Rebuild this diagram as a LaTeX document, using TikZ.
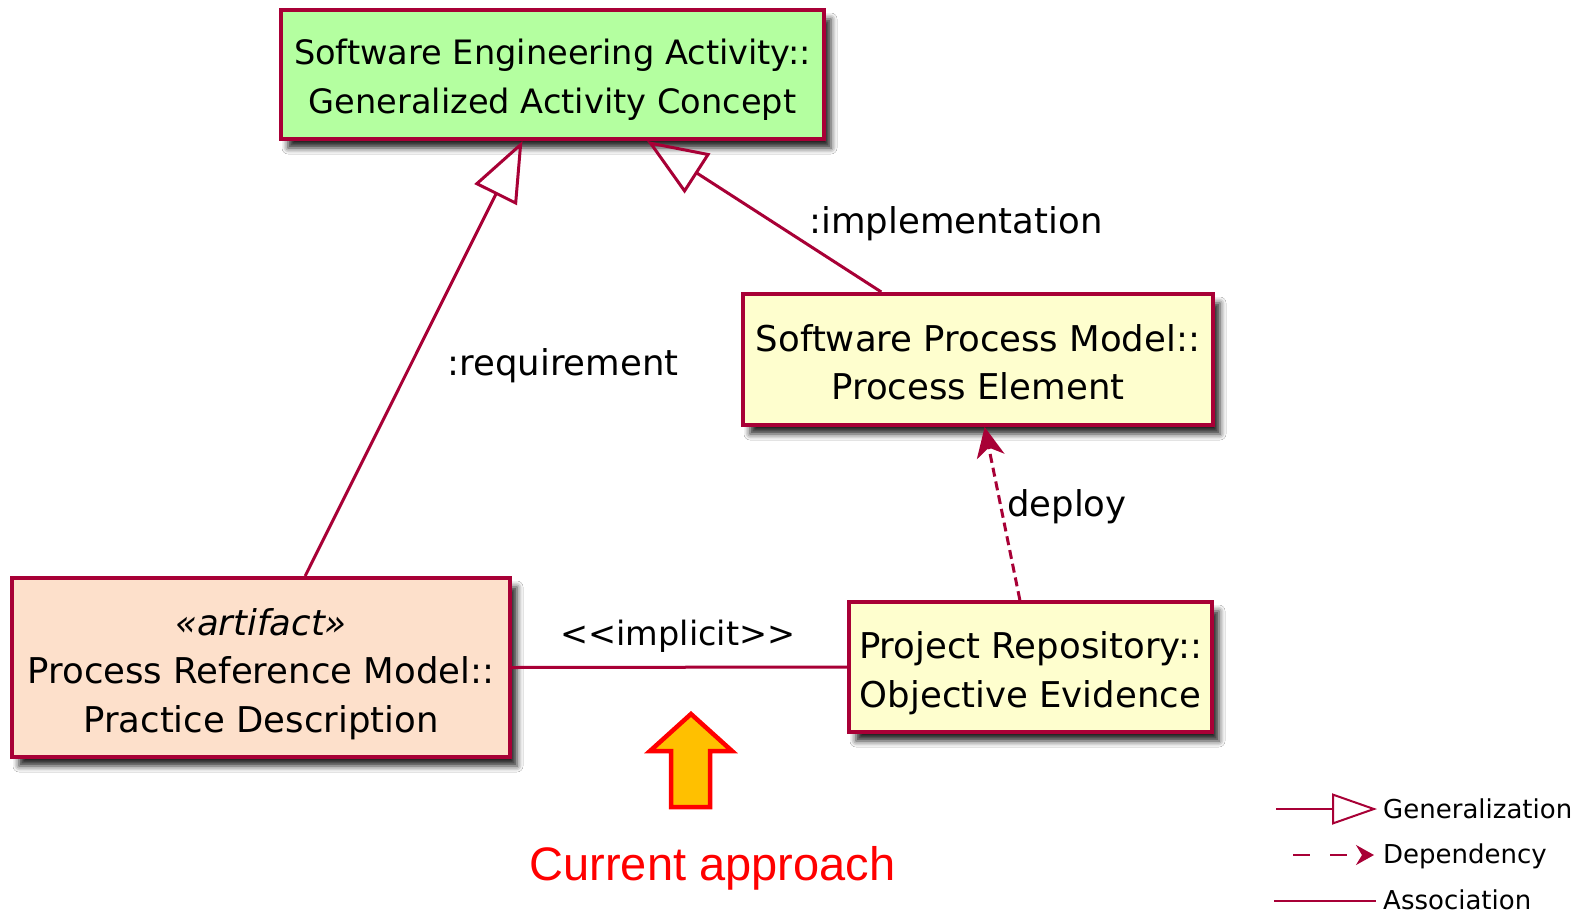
\documentclass[tikz,border=0pt]{standalone}
\usepackage{fontspec}
\setmainfont{DejaVu Sans}
\newfontfamily\arialfont{Liberation Sans}
\usetikzlibrary{arrows.meta,shadows.blur,calc}
\definecolor{umlred}{HTML}{A80036}
\definecolor{gacgreen}{HTML}{B4FFA0}
\definecolor{peyellow}{HTML}{FEFECE}
\definecolor{pdpeach}{HTML}{FDE0CB}
\definecolor{arrowgold}{HTML}{FFC000}
\newcommand{\tstrut}[1]{\rule{0pt}{#1}}
\begin{document}
\begin{tikzpicture}[x=1pt,y=-1pt,
  umlbox/.style={draw=umlred, line width=4pt, inner sep=0pt, align=center,
    blur shadow={shadow xshift=7pt, shadow yshift=-9pt, shadow blur radius=6pt, shadow opacity=85},
    font=\fontsize{35.5}{48.5}\selectfont},
  conn/.style={draw=umlred, line width=3pt},
  gen/.style={conn, -{Triangle[open, length=60pt, width=47pt]}},
  dep/.style={conn, dash pattern=on 9pt off 5pt, -{Stealth[length=30pt, width=28pt, inset=9pt]}},
  lbl/.style={font=\fontsize{35.5}{42}\selectfont, inner sep=0pt, anchor=base},
  leg/.style={font=\fontsize{26}{30}\selectfont, inner sep=0pt, anchor=base west},
  legline/.style={draw=umlred, line width=2pt}]
\fill[white] (0,0) rectangle (1585,913);
\useasboundingbox (0,0) rectangle (1585,913);

% boxes
\node[umlbox, fill=gacgreen, minimum width=543pt, minimum height=129pt,
  font=\fontsize{33.6}{48.5}\selectfont] (gac) at (552.5,74.5)
  {\tstrut{36pt}Software Engineering Activity::\\Generalized Activity Concept};
\node[umlbox, fill=peyellow, minimum width=470pt, minimum height=131pt] (pe) at (978,359.5)
  {\tstrut{32pt}Software Process Model::\\Process Element};
\node[umlbox, fill=pdpeach, minimum width=498pt, minimum height=179pt] (pd) at (261,667.5)
  {\tstrut{40pt}\textit{«artifact»}\\Process Reference Model::\\Practice Description};
\node[umlbox, fill=peyellow, minimum width=363pt, minimum height=130pt] (oe) at (1030.5,667)
  {\tstrut{39pt}Project Repository::\\Objective Evidence};

% connectors
\draw[gen] ($(pd.north west)!0.588!(pd.north east)$) -- ($(gac.south west)!0.445!(gac.south east)$);
\draw[gen] ($(pe.north west)!0.296!(pe.north east)$) -- ($(gac.south west)!0.673!(gac.south east)$);
\draw[dep] ($(oe.north west)!0.471!(oe.north east)$) -- ($(pe.south west)!0.514!(pe.south east)$);
\draw[conn] (pd.east) -- (oe.west);

% labels
\node[lbl] (limpl) at (956,233) {:implementation};
\node[lbl] (lreq) at (563,375) {:requirement};
\node[lbl, anchor=base west] (ldep) at (1007,516) {deploy};
\node[lbl, font=\fontsize{33.5}{42}\selectfont] (limplicit) at (678,645) {<\kern0pt<implicit>\kern0pt>};

% block arrow
\draw[draw=red, fill=arrowgold, line width=4.5pt, line join=miter]
  (691,714) -- (732,751) -- (710,751) -- (710,807) -- (671,807) -- (671,751) -- (650,751) -- cycle;
\node[anchor=base, font=\arialfont\fontsize{47}{50}\selectfont, text=red, inner sep=0pt] (cur) at (712.5,880) {Current approach};

% legend
\coordinate (g1) at (1276,809); \coordinate (g2) at (1377,809);
\draw[legline, -{Triangle[open, length=45pt, width=31pt]}] (g1) -- (g2);
\node[leg] (lg) at (1383,818) {Generalization};
\coordinate (d1) at (1293,855); \coordinate (d2) at (1374,855);
\draw[legline, dash pattern=on 17pt off 20pt, -{Stealth[length=18pt, width=20pt, inset=6pt]}] (d1) -- (d2);
\node[leg] (ld) at (1383,863) {Dependency};
\coordinate (a1) at (1274,901); \coordinate (a2) at (1376,901);
\draw[legline] (a1) -- (a2);
\node[leg] (la) at (1383,909) {Association};
\end{tikzpicture}
\end{document}
